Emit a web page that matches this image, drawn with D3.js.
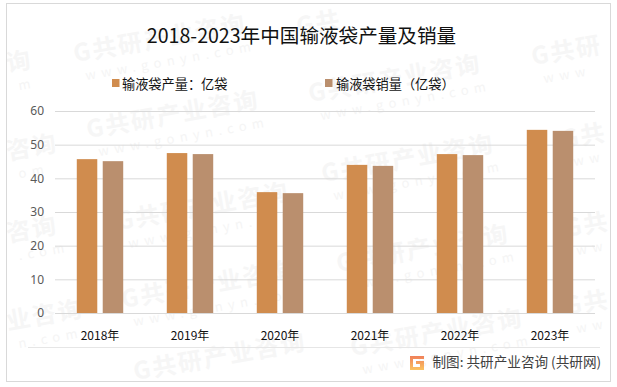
<!DOCTYPE html>
<html>
<head>
<meta charset="utf-8">
<script src="https://cdn.jsdelivr.net/npm/d3@7"></script>
<style>
  html, body { margin: 0; padding: 0; background: #fff; }
  svg { display: block; }
  text { font-family: "Noto Sans CJK SC", "Noto Sans", sans-serif; }
</style>
</head>
<body>
<div id="chart"></div>
<script>
// --- DATA ---
const years = ["2018年", "2019年", "2020年", "2021年", "2022年", "2023年"];
const seriesNames = ["输液袋产量：亿袋", "输液袋销量（亿袋）"];
const output = [45.7, 47.5, 35.9, 44.0, 47.2, 54.4];
const sales = [45.1, 47.2, 35.6, 43.7, 46.9, 54.1];
const yTicks = [0, 10, 20, 30, 40, 50, 60];
const colors = ["#d08c4e", "#ba8f6e"];

// watermark pieces: x, y, name part, url part
const watermarks = [
    [8, 72, "询", "m"], [8, 160, "咨询", "om"], [8, 242, "咨询", ".com"], [8, 330, "业咨询", "n.com"],
    [75, 62, "G共研产业咨询", "www.gonyn.com"], [88, 138, "G共研产业咨询", "www.gonyn.com"],
    [118, 230, "G共研产业咨询", "www.gonyn.com"], [123, 308, "G共研产业咨询", "www.gonyn.com"],
    [135, 380, "G共研产业咨询", ""], [298, 35, "G共", ""],
    [310, 102, "G共研产业咨询", "www.gonyn.com"], [323, 182, "G共研产业咨询", "www.gonyn.com"],
    [338, 272, "G共研产业咨询", "www.gonyn.com"], [352, 356, "G共研产业咨询", "www.gonyn.com"],
    [533, 65, "G共研", "www"], [563, 148, "G共", "ww"], [566, 237, "G共", "ww"], [566, 315, "G共", "ww"]
];

const width = 617, height = 387;
const margin = { top: 111, right: 22, bottom: 74, left: 55 };

const svg = d3.select("#chart").append("svg").attr("width", width).attr("height", height);

// --- WATERMARK ---
const mark = svg.append("g").selectAll("g").data(watermarks).enter().append("g")
    .attr("transform", d => `translate(${d[0]},${d[1]}) rotate(-10)`);
mark.append("text")
    .attr("font-size", 24).attr("font-weight", 700).attr("letter-spacing", "2px").attr("fill", "#f6f6f6")
    .text(d => d[2]);
mark.append("text")
    .attr("x", 8).attr("y", 20)
    .attr("font-size", 13).attr("fill", "#f5f5f5").attr("letter-spacing", "5.5px")
    .text(d => d[3]);

// --- FRAME ---
svg.append("rect")
    .attr("x", 6.5).attr("y", 3.5).attr("width", 604).attr("height", 378)
    .attr("fill", "none").attr("stroke", "#d9d9d9");
svg.append("line")
    .attr("x1", 28).attr("x2", 600).attr("y1", 347.5).attr("y2", 347.5)
    .attr("stroke", "#e6e6e6");

// --- SCALES ---
const x = d3.scaleBand().domain(years).range([margin.left, width - margin.right]);
const xInner = d3.scaleBand().domain(seriesNames).range([0, x.bandwidth()])
    .paddingInner(0.21).paddingOuter(0.84);
const y = d3.scaleLinear().domain([0, 60]).range([height - margin.bottom, margin.top]);

// --- AXES ---
const yAxis = svg.append("g")
    .attr("transform", `translate(${margin.left},0)`)
    .call(d3.axisLeft(y).tickValues(yTicks).tickSize(-(width - margin.left - margin.right)).tickPadding(11));
yAxis.select(".domain").remove();
yAxis.selectAll("line").attr("stroke", "#d9d9d9");
yAxis.selectAll("text").attr("font-size", 12).attr("fill", "#595959")
    .style("font-family", "'Noto Sans', sans-serif");

const xAxis = svg.append("g")
    .attr("transform", `translate(0,${height - margin.bottom})`)
    .call(d3.axisBottom(x).tickSize(0).tickPadding(14));
xAxis.select(".domain").remove();
xAxis.selectAll("text").attr("font-size", 12).attr("fill", "#111").attr("dy", "1.05em");

// --- BARS ---
[output, sales].forEach((values, i) => {
    svg.append("g").selectAll("rect").data(values).enter().append("rect")
        .attr("x", (d, j) => x(years[j]) + xInner(seriesNames[i]))
        .attr("width", xInner.bandwidth())
        .attr("y", d => y(d))
        .attr("height", d => y(0) - y(d))
        .attr("fill", colors[i]);
});

// --- TITLE ---
svg.append("text")
    .attr("x", 301.5).attr("y", 43).attr("text-anchor", "middle")
    .attr("font-size", 19.6).attr("fill", "#111")
    .text("2018-2023年中国输液袋产量及销量");

// --- LEGEND ---
const legendX = [112, 325], legendTextX = [122, 336];
seriesNames.forEach((name, i) => {
    svg.append("rect")
        .attr("x", legendX[i]).attr("y", 79).attr("width", 7.5).attr("height", 8)
        .attr("fill", colors[i]);
    svg.append("text")
        .attr("x", legendTextX[i]).attr("y", 88.5)
        .attr("font-size", 13.2).attr("fill", "#111")
        .text(name);
});

// --- SOURCE ---
const grad = svg.append("defs").append("linearGradient").attr("id", "logo").attr("x1", 0).attr("y1", 0).attr("x2", 0).attr("y2", 1);
grad.append("stop").attr("offset", 0).attr("stop-color", "#f0805a");
grad.append("stop").attr("offset", 1).attr("stop-color", "#fbc35f");
svg.append("path")
    .attr("d", "M410 356h14v3h-11v8h7v-3h-4v-3h8v9h-14z")
    .attr("fill", "url(#logo)");
svg.append("text")
    .attr("x", 432.5).attr("y", 367)
    .attr("font-size", 13.6).attr("fill", "#404040")
    .text("制图: 共研产业咨询 (共研网)");
</script>
</body>
</html>
